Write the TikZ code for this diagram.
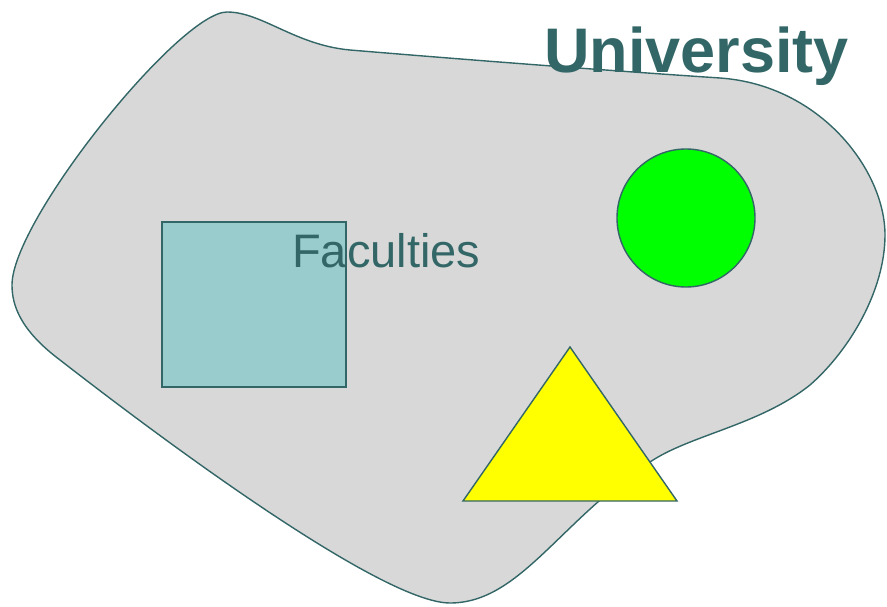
\documentclass[tikz,border=0pt]{standalone}
\usepackage{fontspec}
\setmainfont{Liberation Sans}
\definecolor{uniteal}{HTML}{336666}
\definecolor{unigray}{HTML}{D8D8D8}
\definecolor{facteal}{HTML}{99CCCC}
\definecolor{figgreen}{HTML}{00FF00}
\definecolor{figyellow}{HTML}{FFFF00}
\tikzset{outl/.style={draw=uniteal,line width=1.4pt}}
\begin{document}
\begin{tikzpicture}[x=1pt,y=1pt]
  \useasboundingbox (0,0) rectangle (887,606);
  % university area
  \draw[outl,fill=unigray] (227,594)
    .. controls (262,594) and (295,561) .. (350,556)
    .. controls (470,546) and (600,536) .. (720,528)
    .. controls (820,521) and (885,436) .. (885,371)
    .. controls (885,316) and (850,256) .. (810,221)
    .. controls (760,181) and (690,171) .. (650,144)
    .. controls (560,86) and (520,3) .. (450,3)
    .. controls (380,3) and (150,176) .. (60,246)
    .. controls (20,276) and (12,301) .. (12,321)
    .. controls (12,386) and (180,594) .. cycle;
  \node[anchor=base west,inner sep=0pt,text=uniteal,font=\fontsize{63}{63}\selectfont\bfseries]
    (uni) at (544,533) {University};
  % faculties
  \draw[outl,fill=facteal] (162,384) rectangle (346,219);
  \node[anchor=base west,inner sep=0pt,text=uniteal,font=\fontsize{47}{47}\selectfont]
    (fac) at (292,338) {Faculties};
  \draw[outl,fill=figgreen] (686,388) circle(69);
  \draw[outl,fill=figyellow] (570,259) -- (463,105) -- (677,105) -- cycle;
\end{tikzpicture}
\end{document}
